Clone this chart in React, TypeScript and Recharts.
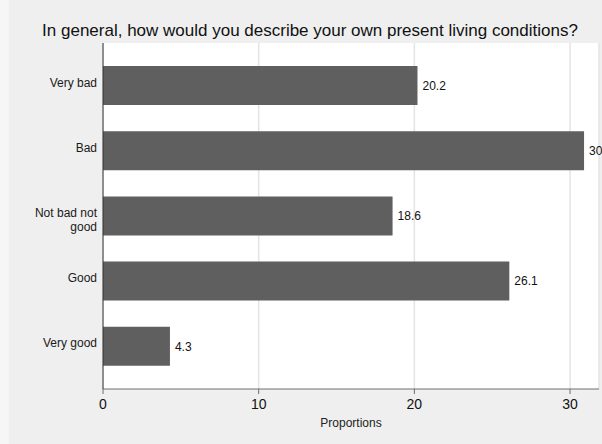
import React from 'react';
import { BarChart, Bar, XAxis, YAxis, CartesianGrid, LabelList, Text } from 'recharts';

const categories = ['Very bad', 'Bad', 'Not bad not good', 'Good', 'Very good'];
const proportions = [20.2, 30.9, 18.6, 26.1, 4.3];
const xTicks = [0, 10, 20, 30];
const title = 'In general, how would you describe your own present living conditions?';
const xLabel = 'Proportions';

const data = categories.map((c, i) => ({ category: c, value: proportions[i] }));

const FONT = '"Liberation Sans", Arial, Helvetica, sans-serif';

const YTick = (props: any) => {
  const { x, y, payload } = props;
  return (
    <Text
      x={x + 2}
      y={y + 1}
      width={85}
      textAnchor="end"
      verticalAnchor="middle"
      fontSize={12}
      fontFamily={FONT}
      fill="#1a1a1a"
      lineHeight={14}
    >
      {payload.value}
    </Text>
  );
};

export default function App() {
  return (
    <div style={{ position: 'absolute', left: 0, top: 0, width: 602, height: 444, background: '#efefef' }}>
      <div style={{ position: 'absolute', left: 0, top: 0, width: 9, height: 444, background: '#f6f6f6' }} />
      <div
        style={{
          position: 'absolute',
          left: 18,
          top: 21,
          width: 584,
          textAlign: 'center',
          fontFamily: FONT,
          fontSize: 17,
          color: '#111',
          lineHeight: '20px',
          whiteSpace: 'nowrap',
        }}
      >
        {title}
      </div>
      <BarChart
        width={602}
        height={444}
        data={data}
        layout="vertical"
        margin={{ top: 43, right: 3, bottom: 5, left: 0 }}
        barSize={39}
        style={{ position: 'absolute', left: 0, top: 0 }}
      >
        <CartesianGrid horizontal={false} vertical={true} stroke="#e4e4e4" strokeWidth={1.5} fill="#ffffff" />
        <XAxis
          type="number"
          dataKey="value"
          domain={[0, 31.86]}
          ticks={xTicks}
          allowDataOverflow
          height={50}
          tickSize={5}
          tickMargin={5}
          stroke="#6e6e6e"
          tick={{ fontSize: 14, fontFamily: FONT, fill: '#111' }}
          label={{ value: xLabel, position: 'insideBottom', offset: 12, fontSize: 12, fontFamily: FONT, fill: '#222' }}
        />
        <YAxis
          type="category"
          dataKey="category"
          width={103}
          tickLine={false}
          stroke="#333"
          padding={{ top: 10, bottom: 10 }}
          tick={<YTick />}
        />
        <Bar dataKey="value" fill="#5f5f5f" isAnimationActive={false}>
          <LabelList dataKey="value" position="right" offset={5} fontSize={12} fontFamily={FONT} fill="#111" />
        </Bar>
      </BarChart>
    </div>
  );
}
